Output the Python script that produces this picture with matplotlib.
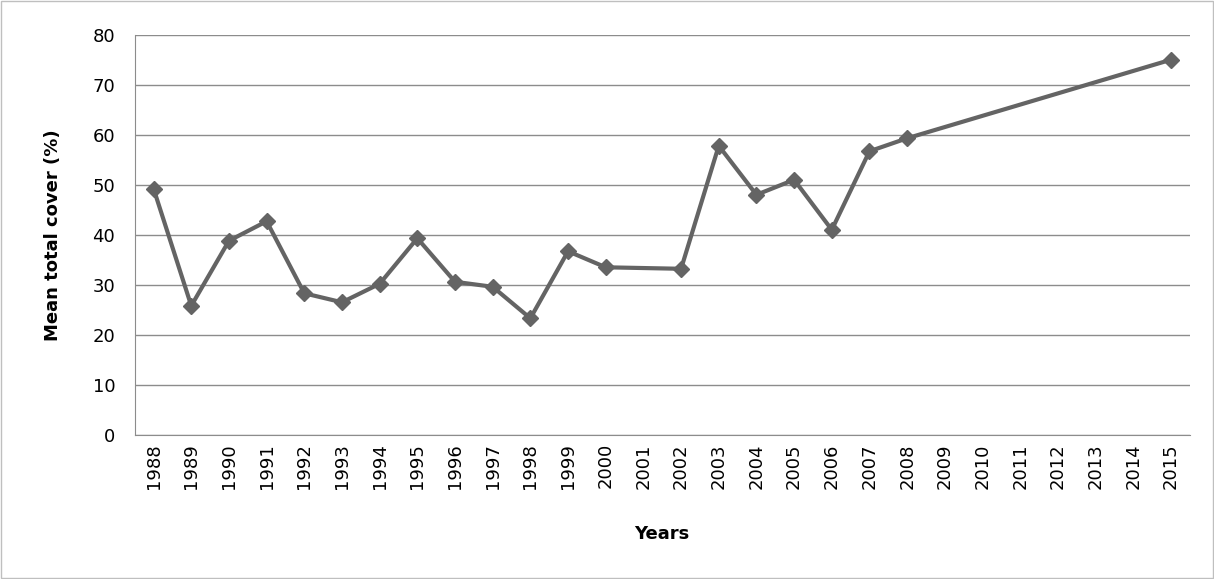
import matplotlib.pyplot as plt
import numpy as np

years = list(range(1988, 2016))
data_years = [1988, 1989, 1990, 1991, 1992, 1993, 1994, 1995, 1996, 1997, 1998,
              1999, 2000, 2002, 2003, 2004, 2005, 2006, 2007, 2008, 2015]
cover = [49.2, 25.8, 38.8, 42.7, 28.3, 26.5, 30.2, 39.3, 30.6, 29.6, 23.3,
         36.7, 33.5, 33.2, 57.8, 48.0, 51.0, 41.0, 56.7, 59.3, 75.0]

fig = plt.figure(figsize=(12.14, 5.79), dpi=100)
ax = fig.add_axes([0.111, 0.249, 0.869, 0.691])
fig.patches.append(plt.Rectangle((0.001, 0.001), 0.998, 0.997, transform=fig.transFigure,
                                 fill=False, edgecolor='#bfbfbf', linewidth=1))

xpos = [years.index(y) for y in data_years]
ax.plot(xpos, cover, color='#646464', linewidth=3, marker='D', markersize=8, zorder=3)

ax.set_xlim(-0.5, len(years) - 0.5)
ax.set_ylim(0, 80)
ax.set_yticks(range(0, 81, 10))
ax.set_xticks(range(len(years)))
ax.set_xticklabels([str(y) for y in years], rotation=90, fontsize=13)
ax.tick_params(axis='y', labelsize=13, length=0, pad=14)
ax.tick_params(axis='x', length=0, pad=6)
ax.grid(axis='y', color='#8c8c8c', linewidth=1)
ax.set_axisbelow(True)
for s in ['top', 'right']:
    ax.spines[s].set_visible(False)
ax.spines['left'].set_color('#8c8c8c')
ax.spines['bottom'].set_color('#8c8c8c')
ax.set_ylabel('Mean total cover (%)', fontsize=13, fontweight='bold', labelpad=22)
ax.set_xlabel('Years', fontsize=13, fontweight='bold', labelpad=26)

fig.savefig('out.png', dpi=100)
